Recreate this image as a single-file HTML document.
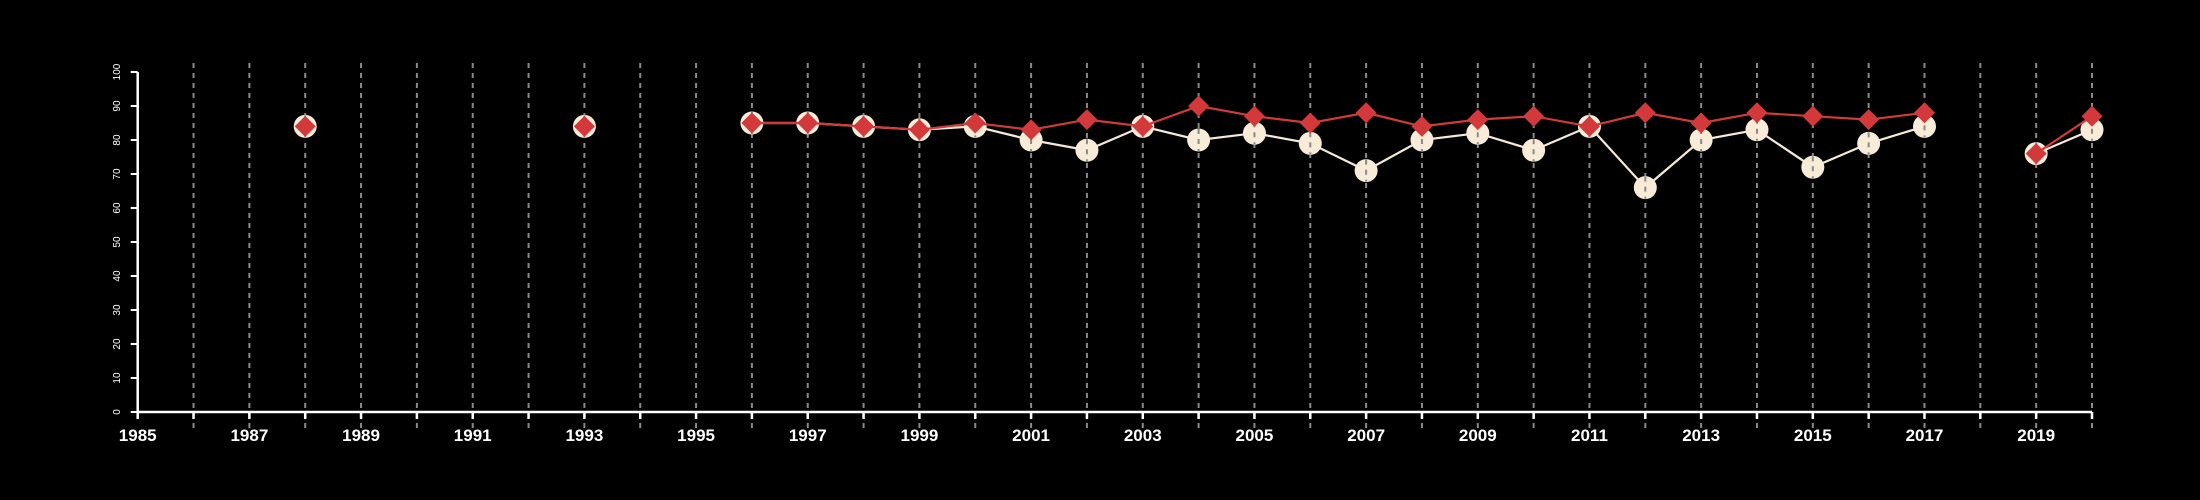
<!DOCTYPE html>
<html><head><meta charset="utf-8"><style>
html,body{margin:0;padding:0;background:#000;}
svg{display:block;font-family:"Liberation Sans",sans-serif;}
</style></head><body>
<svg id="chart" width="2200" height="500" viewBox="0 0 2200 500" xmlns="http://www.w3.org/2000/svg">
<rect width="2200" height="500" fill="#000"/>
<g id="grid"></g>
<g id="axes"></g>
<g id="series"></g>
</svg>
<script>
const years = [1988,1993,1996,1997,1998,1999,2000,2001,2002,2003,2004,2005,2006,2007,2008,2009,2010,2011,2012,2013,2014,2015,2016,2017,2019,2020];
const seriesWhite = [84,84,85,85,84,83,84,80,77,84,80,82,79,71,80,82,77,84,66,80,83,72,79,84,76,83];
const seriesRed = [84,84,85,85,84,83,85,83,86,84,90,87,85,88,84,86,87,84,88,85,88,87,86,88,76,87];
const yTicks = [0,10,20,30,40,50,60,70,80,90,100];
const xLabels = [1985,1987,1989,1991,1993,1995,1997,1999,2001,2003,2005,2007,2009,2011,2013,2015,2017,2019];

const NS="http://www.w3.org/2000/svg";
const X0=137.7, X1=2092, Y0=412, Y1=72;
const xs=y=>X0+(y-1985)*(X1-X0)/35;
const ys=v=>Y0-(v-0)*(Y0-Y1)/100;
function mk(tag,attrs,parent){const e=document.createElementNS(NS,tag);for(const k in attrs)e.setAttribute(k,attrs[k]);parent.appendChild(e);return e;}
const grid=document.getElementById('grid'), axes=document.getElementById('axes'), ser=document.getElementById('series');

for(let y=1986;y<=2020;y++){
  const l=mk('line',{x1:xs(y),x2:xs(y),y1:63,y2:430,stroke:'#8a8a8a','stroke-width':2,'stroke-dasharray':'5,5'},grid);
  
  
}
const ax=mk('line',{x1:X0,x2:X1,y1:Y0,y2:Y0,stroke:'#fff','stroke-width':2.5},axes);


const ay=mk('line',{x1:X0,x2:X0,y1:Y0,y2:Y1,stroke:'#fff','stroke-width':2.5},axes);


for(let y=1985;y<=2020;y++){
  const t=mk('line',{x1:xs(y),x2:xs(y),y1:Y0,y2:Y0+7,stroke:'#fff','stroke-width':2.5},axes);
  
  
}
xLabels.forEach(y=>{
  const t=mk('text',{x:xs(y),y:441,fill:'#fff','font-size':17,'font-weight':'bold','text-anchor':'middle'},axes);
  t.textContent=y;
  
  
});
yTicks.forEach(v=>{
  const t=mk('line',{x1:X0-7,x2:X0,y1:ys(v),y2:ys(v),stroke:'#fff','stroke-width':2},axes);
  
  
  const tx=mk('text',{x:0,y:0,fill:'#fff','font-size':10,'text-anchor':'middle',transform:`translate(120,${ys(v)}) rotate(-90)`},axes);
  tx.textContent=v;
  
  
});

function segments(vals){
  const segs=[];let cur=[];
  for(let i=0;i<years.length;i++){
    if(i>0 && years[i]-years[i-1]>1){ if(cur.length>1)segs.push(cur); cur=[]; }
    cur.push([xs(years[i]),ys(vals[i])]);
  }
  if(cur.length>1)segs.push(cur);
  return segs;
}
segments(seriesWhite).forEach(s=>{
  const p=mk('polyline',{points:s.map(q=>q.join(',')).join(' '),fill:'none',stroke:'#f5e9d8','stroke-width':2.2},ser);
  
  
});
years.forEach((y,i)=>{
  const c=mk('circle',{cx:xs(y),cy:ys(seriesWhite[i]),r:11.5,fill:'#f8ebd8'},ser);
  
  
  const d=mk('line',{x1:xs(y),x2:xs(y),y1:ys(seriesWhite[i])-11,y2:ys(seriesWhite[i])+11,stroke:'#8a8a8a','stroke-width':2,'stroke-dasharray':'5,5'},ser);
  
  
});
segments(seriesRed).forEach(s=>{
  const p=mk('polyline',{points:s.map(q=>q.join(',')).join(' '),fill:'none',stroke:'#d03a3a','stroke-width':2.2},ser);
  
  
});
years.forEach((y,i)=>{
  const cx=xs(y),cy=ys(seriesRed[i]),r=10.5;
  const d=mk('polygon',{points:`${cx},${cy-r} ${cx+r},${cy} ${cx},${cy+r} ${cx-r},${cy}`,fill:'#d3393a'},ser);
  
  
});
</script>
</body></html>
